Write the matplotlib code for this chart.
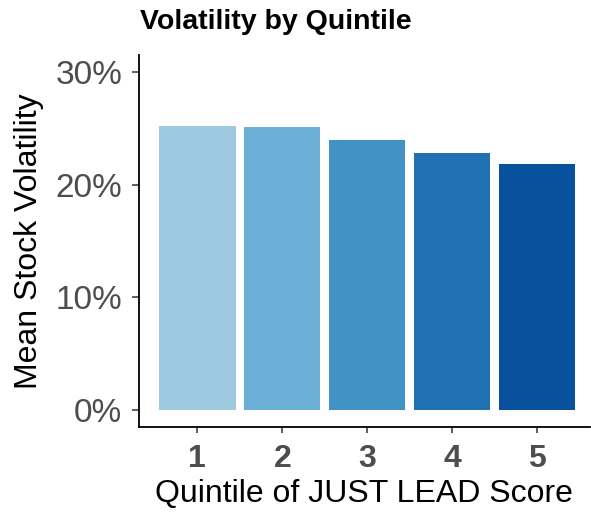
import numpy as np
import matplotlib.pyplot as plt
from matplotlib.ticker import FuncFormatter

# values
quintiles = ['1', '2', '3', '4', '5']
volatility = [25.2, 25.1, 24.0, 22.8, 21.8]
bar_colors = ['#9ECAE1', '#6BAED6', '#4292C6', '#2171B5', '#08519C']
y_ticks = [0, 10, 20, 30]

plt.rcParams['font.family'] = ['Liberation Sans', 'DejaVu Sans']

fig = plt.figure(figsize=(5.91, 5.13), dpi=100)
ax = fig.add_axes([0.2352, 0.1676, 0.7628, 0.7252])

x = np.arange(1, len(quintiles) + 1)
ax.bar(x, volatility, width=0.9, color=bar_colors)

ax.set_xlim(0.314, 5.62)
ax.set_ylim(-1.5, 31.5)
ax.set_xticks(x)
ax.set_xticklabels(quintiles, fontsize=23, fontweight='bold', color='#4D4D4D')
ax.set_yticks(y_ticks)
ax.yaxis.set_major_formatter(FuncFormatter(lambda v, p: f'{v:.0f}%'))
for lbl in ax.get_yticklabels():
    lbl.set_fontsize(24)
    lbl.set_color('#4D4D4D')

ax.tick_params(axis='y', length=5, width=1.1, color='#333333', pad=7)
ax.tick_params(axis='x', length=4, width=1.1, color='#333333', pad=8)
ax.spines['top'].set_visible(False)
ax.spines['right'].set_visible(False)
ax.spines['left'].set_linewidth(1.3)
ax.spines['bottom'].set_linewidth(1.3)

ax.set_xlabel('Quintile of JUST LEAD Score', fontsize=23, labelpad=4)
ax.set_ylabel('Mean Stock Volatility', fontsize=23, labelpad=8)
fig.text(0.237, 0.957, 'Volatility by Quintile', fontsize=20.5, fontweight='bold',
         ha='left', va='center')

fig.savefig('out.png', dpi=100)
